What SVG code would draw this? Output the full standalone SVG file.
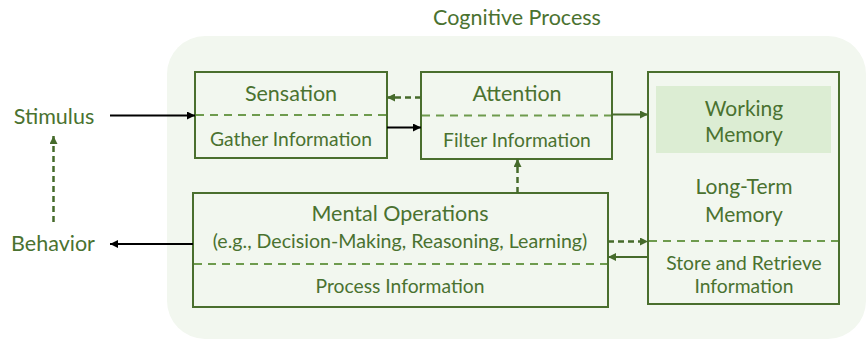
<svg xmlns="http://www.w3.org/2000/svg" width="867" height="340" viewBox="0 0 867 340">
<defs>
<style>
text{font-family:Lato,"Liberation Sans",sans-serif;fill:#4a7230;text-anchor:middle;dominant-baseline:central}
.box{fill:none;stroke:#4a6f2e;stroke-width:2}
.sep{stroke:#6e9b4e;stroke-width:2;stroke-dasharray:8 6;fill:none}
.blk{stroke:#000;stroke-width:2;fill:none}
.grn{stroke:#466b2b;stroke-width:2;fill:none}
.dsh{stroke:#466b2b;stroke-width:2.5;stroke-dasharray:6 4;fill:none}
.t1{font-size:21.5px}
.t2{font-size:19.3px}
.t3{font-size:21px}
</style>
<marker id="ab" viewBox="0 0 10 10" refX="10" refY="5" markerWidth="9" markerHeight="8" markerUnits="userSpaceOnUse" orient="auto"><path d="M0,0L10,5L0,10z" fill="#000"/></marker>
<marker id="ag" viewBox="0 0 10 10" refX="10" refY="5" markerWidth="9" markerHeight="8" markerUnits="userSpaceOnUse" orient="auto"><path d="M0,0L10,5L0,10z" fill="#466b2b"/></marker>
</defs>
<rect x="167" y="36" width="699" height="303" rx="38" fill="#f2f7ef"/>
<text x="517" y="17" class="t1">Cognitive Process</text>
<g id="stimulus"><text x="54" y="116" class="t1">Stimulus</text></g>
<g id="behavior"><text x="53" y="243" class="t1">Behavior</text></g>
<g id="sensation">
<rect x="195" y="72" width="192" height="86" class="box"/>
<line x1="196" y1="115" x2="386" y2="115" class="sep"/>
<text x="291" y="93" class="t1">Sensation</text>
<text x="291" y="138" class="t2">Gather Information</text>
</g>
<g id="attention">
<rect x="421" y="72" width="191" height="87" class="box"/>
<line x1="422" y1="115.5" x2="611" y2="115.5" class="sep"/>
<text x="517" y="93" class="t1">Attention</text>
<text x="517" y="139" class="t2">Filter Information</text>
</g>
<g id="memory">
<rect x="648" y="72" width="191" height="232" class="box"/>
<rect x="656" y="86" width="175" height="67" fill="#dcedd3"/>
<line x1="649" y1="241" x2="838" y2="241" class="sep"/>
<text x="744" y="107" class="t3">Working</text>
<text x="744" y="133" class="t3">Memory</text>
<text x="744" y="185" class="t3">Long-Term</text>
<text x="744" y="213" class="t3">Memory</text>
<text x="744" y="262" class="t2">Store and Retrieve</text>
<text x="744" y="285" class="t2">Information</text>
</g>
<g id="mental">
<rect x="193" y="193" width="415" height="114" class="box"/>
<line x1="194" y1="264" x2="607" y2="264" class="sep"/>
<text x="400" y="213" class="t1">Mental Operations</text>
<text x="400" y="240" style="font-size:19.6px">(e.g., Decision-Making, Reasoning, Learning)</text>
<text x="400" y="285" class="t2">Process Information</text>
</g>
<g id="connectors">
<line x1="110" y1="115.5" x2="195" y2="115.5" class="blk" marker-end="url(#ab)"/>
<line x1="387" y1="127.5" x2="421" y2="127.5" class="blk" marker-end="url(#ab)"/>
<line x1="421" y1="97.5" x2="387" y2="97.5" class="dsh" marker-end="url(#ag)"/>
<line x1="612" y1="114.5" x2="648" y2="114.5" class="grn" marker-end="url(#ag)"/>
<line x1="517.5" y1="193" x2="517.5" y2="159" class="dsh" marker-end="url(#ag)"/>
<line x1="608" y1="241.5" x2="648" y2="241.5" class="dsh" marker-end="url(#ag)"/>
<line x1="648" y1="257" x2="608" y2="257" class="grn" marker-end="url(#ag)"/>
<line x1="193" y1="244" x2="110" y2="244" class="blk" marker-end="url(#ab)"/>
<line x1="53.5" y1="222" x2="53.5" y2="136" class="dsh" marker-end="url(#ag)"/>
</g>
</svg>
